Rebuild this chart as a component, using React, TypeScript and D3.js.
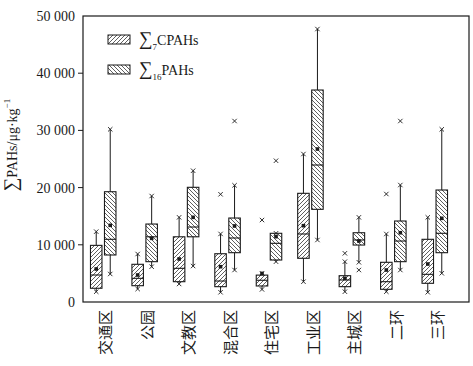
import React from "react";
import * as d3 from "d3";

const categories = ["交通区", "公园", "文教区", "混合区", "住宅区", "工业区", "主城区", "二环", "三环"];

// ∑7CPAHs
const cpahsMin = [1800, 2270, 3150, 1700, 2200, 3550, 1800, 1800, 1700];
const cpahsQ1 = [2400, 2850, 3550, 2680, 2800, 7640, 2680, 2220, 3270];
const cpahsMedian = [4720, 4140, 5890, 3670, 3800, 11890, 3850, 3550, 4840];
const cpahsQ3 = [9900, 6590, 11400, 8440, 4700, 19000, 4600, 6940, 10960];
const cpahsMax = [12300, 8390, 14800, 11900, 5000, 25870, 7050, 11890, 14800];
const cpahsMean = [5770, 4720, 7520, 6170, 5000, 13340, 4140, 5590, 6640];
const cpahsOutliers = [[], [], [], [18830], [14330], [], [8510], [18880], []];

// ∑16PAHs
const pahsMin = [4900, 6170, 6290, 5590, 7050, 10840, 6940, 5590, 5020];
const pahsQ1 = [8220, 7050, 11400, 8620, 7340, 16200, 9960, 7050, 8620];
const pahsMedian = [10960, 11400, 13110, 11190, 10260, 23950, 10840, 10660, 12010];
const pahsQ3 = [19280, 13630, 20050, 14680, 12010, 37060, 12110, 14160, 19580];
const pahsMax = [30190, 18530, 22950, 20400, 12010, 47720, 14800, 20450, 30190];
const pahsMean = [13400, 11130, 14800, 13290, 11420, 26740, 10660, 12110, 14630];
const pahsOutliers = [[], [], [], [31640], [24700], [], [5590], [31640], []];

const yTicks = [0, 10000, 20000, 30000, 40000, 50000];

const series = [
  { key: "c", pattern: "hatchUp", offset: -7, min: cpahsMin, q1: cpahsQ1, med: cpahsMedian, q3: cpahsQ3, max: cpahsMax, mean: cpahsMean, out: cpahsOutliers },
  { key: "p", pattern: "hatchDown", offset: 7, min: pahsMin, q1: pahsQ1, med: pahsMedian, q3: pahsQ3, max: pahsMax, mean: pahsMean, out: pahsOutliers },
];

const W = 473, H = 366;
const left = 83, right = 469, top = 16, bottom = 302;
const ink = "#1a1a1a";
const serif = "'Liberation Serif', 'Times New Roman', serif";

function Cross({ x, y, s = 2.2 }: { x: number; y: number; s?: number }) {
  return (
    <path
      d={`M${x - s},${y - s}L${x + s},${y + s}M${x - s},${y + s}L${x + s},${y - s}`}
      stroke={ink}
      strokeWidth={0.9}
    />
  );
}

export default function App() {
  const x = d3.scaleBand<string>().domain(categories).range([82.5, 455.5]).padding(0);
  const y = d3.scaleLinear().domain([0, 50000]).range([bottom, top]);
  const fmt = (v: number) => d3.format(",")(v).replace(/,/g, " ");
  const bw = 11.5;

  return (
    <svg width={W} height={H} style={{ position: "absolute", left: 0, top: 0, background: "#fff" }}>
      <defs>
        <pattern id="hatchUp" width={4} height={4} patternUnits="userSpaceOnUse">
          <path d="M-1,1l2,-2M0,4l4,-4M3,5l2,-2" stroke={ink} strokeWidth={0.7} />
        </pattern>
        <pattern id="hatchDown" width={4} height={4} patternUnits="userSpaceOnUse">
          <path d="M-1,3l2,2M0,0l4,4M3,-1l2,2" stroke={ink} strokeWidth={0.7} />
        </pattern>
      </defs>

      {/* frame */}
      <rect x={left} y={top} width={right - left} height={bottom - top} fill="none" stroke={ink} strokeWidth={1.2} />

      {/* y axis */}
      {yTicks.map((t) => (
        <g key={t}>
          {t > 0 && t < 50000 && <line x1={left - 5} x2={left} y1={y(t)} y2={y(t)} stroke={ink} strokeWidth={1} />}
          <text x={left - 8} y={y(t)} dy="0.35em" textAnchor="end" fontFamily={serif} fontSize={14} fill={ink}>
            {fmt(t)}
          </text>
        </g>
      ))}
      <text transform={`translate(17,145) rotate(-90)`} textAnchor="middle" fontFamily={serif} fontSize={14} fill={ink}>
        <tspan fontSize={19}>∑</tspan>
        <tspan>PAHs/μg·kg</tspan>
        <tspan fontSize={9} dy={-7}>−1</tspan>
      </text>

      {/* x labels */}
      {categories.map((c) => (
        <text
          key={c}
          transform={`translate(${x(c)! + x.bandwidth() / 2 + 3},310) rotate(-90)`}
          textAnchor="end"
          dy="0.35em"
          fontFamily="'Noto Sans CJK SC', sans-serif"
          fontSize={15}
          fill={ink}
        >
          {c}
        </text>
      ))}

      {/* boxes */}
      {series.map((s) =>
        categories.map((c, i) => {
          const cx = x(c)! + x.bandwidth() / 2 + s.offset;
          return (
            <g key={s.key + c}>
              <line x1={cx} x2={cx} y1={y(s.max[i])} y2={y(s.q3[i])} stroke={ink} strokeWidth={1} />
              <line x1={cx} x2={cx} y1={y(s.q1[i])} y2={y(s.min[i])} stroke={ink} strokeWidth={1} />
              <rect
                x={cx - bw / 2}
                y={y(s.q3[i])}
                width={bw}
                height={y(s.q1[i]) - y(s.q3[i])}
                fill={`url(#${s.pattern})`}
                stroke={ink}
                strokeWidth={1.1}
              />
              <line x1={cx - bw / 2} x2={cx + bw / 2} y1={y(s.med[i])} y2={y(s.med[i])} stroke={ink} strokeWidth={1.1} />
              <Cross x={cx} y={y(s.max[i])} />
              <Cross x={cx} y={y(s.min[i])} />
              {s.out[i].map((o, j) => (
                <Cross key={j} x={cx} y={y(o)} />
              ))}
              <rect x={cx - 1.8} y={y(s.mean[i]) - 1.8} width={3.6} height={3.6} fill={ink} />
            </g>
          );
        })
      )}

      {/* legend */}
      <rect x={108} y={35} width={22} height={9} fill="url(#hatchUp)" stroke={ink} strokeWidth={1} />
      <text x={139} y={45} fontFamily={serif} fontSize={14} fill={ink}>
        <tspan fontSize={19}>∑</tspan>
        <tspan fontSize={9} dy={5}>7</tspan>
        <tspan dy={-5}>CPAHs</tspan>
      </text>
      <rect x={108} y={65} width={22} height={9} fill="url(#hatchDown)" stroke={ink} strokeWidth={1} />
      <text x={139} y={75} fontFamily={serif} fontSize={14} fill={ink}>
        <tspan fontSize={19}>∑</tspan>
        <tspan fontSize={9} dy={5}>16</tspan>
        <tspan dy={-5}>PAHs</tspan>
      </text>
    </svg>
  );
}
